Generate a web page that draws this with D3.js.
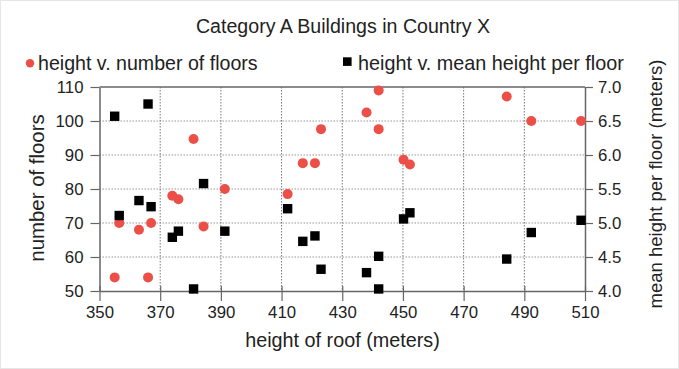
<!DOCTYPE html>
<html><head><meta charset="utf-8">
<script src="https://cdn.jsdelivr.net/npm/d3@7"></script>
<style>body{margin:0;background:#fff}svg{display:block}text{font-family:"Liberation Sans",Arial,sans-serif;fill:#222}</style>
</head><body><svg id="c" width="679" height="369"></svg>
<script>
const roofHeights = [355,366,356.5,363,367,374,376,381,384.3,391.3,412,417,421,423,438,442,442,450.2,452.3,484.2,492.3,508.7];
const floors      = [54,54,70,68,70,78,77,94.7,69,80,78.5,87.6,87.6,97.6,102.5,109,97.6,88.6,87.2,107.2,100,100];
const meanHeight  = [6.57,6.75,5.11,5.33,5.24,4.79,4.88,4.03,5.58,4.88,5.21,4.73,4.81,4.32,4.27,4.03,4.51,5.06,5.15,4.47,4.86,5.04];
const xTicks = [350,370,390,410,430,450,470,490,510];
const yLeftTicks = [50,60,70,80,90,100,110];
const yRightTicks = [4.0,4.5,5.0,5.5,6.0,6.5,7.0];

const svg = d3.select("#c");
const L=99.5, R=585, T=87, B=291;
const x = d3.scaleLinear().domain([350,510]).range([L,R]);
const yL = d3.scaleLinear().domain([50,110]).range([B,T]);
const yR = d3.scaleLinear().domain([4,7]).range([B,T]);

svg.append("rect").attr("x",0.5).attr("y",0.5).attr("width",678).attr("height",368).attr("fill","#fff").attr("stroke","#e6e6e6");

// gridlines
svg.append("g").selectAll("line").data(yLeftTicks.slice(1,-1)).join("line")
  .attr("x1",L).attr("x2",R).attr("y1",d=>yL(d)).attr("y2",d=>yL(d))
  .attr("stroke","#bbb").attr("stroke-width",1.5).attr("stroke-dasharray","1.5,1.5");
svg.append("g").selectAll("line").data(xTicks.slice(1,-1)).join("line")
  .attr("y1",T).attr("y2",B).attr("x1",d=>x(d)).attr("x2",d=>x(d))
  .attr("stroke","#777").attr("stroke-width",1).attr("stroke-dasharray","1.5,1.5");

// axes
const gx = svg.append("g").attr("transform",`translate(0,${B})`)
  .call(d3.axisBottom(x).tickValues(xTicks).tickFormat(d3.format("d")).tickSizeInner(10).tickSizeOuter(0).tickPadding(5));
const gl = svg.append("g").attr("transform",`translate(${L},0)`)
  .call(d3.axisLeft(yL).tickValues(yLeftTicks).tickFormat(d3.format("d")).tickSizeInner(9).tickSizeOuter(0).tickPadding(7));
const gr = svg.append("g").attr("transform",`translate(${R},0)`)
  .call(d3.axisRight(yR).tickValues(yRightTicks).tickFormat(d3.format(".1f")).tickSizeInner(8).tickSizeOuter(0).tickPadding(5));
[gx,gl,gr].forEach(g=>{
  g.selectAll(".domain").attr("stroke","#666").attr("stroke-width",1.5);
  g.selectAll(".tick line").attr("stroke","#666").attr("stroke-width",1.2);
  g.selectAll("text").style("font-size","16.8px").attr("fill","#222");
});
gx.selectAll(".tick line").attr("y1",-5);
svg.append("line").attr("x1",L).attr("x2",R).attr("y1",T).attr("y2",T).attr("stroke","#666").attr("stroke-width",1.5);

// points
svg.append("g").selectAll("circle").data(roofHeights).join("circle")
  .attr("cx",d=>x(d)).attr("cy",(d,i)=>yL(floors[i])).attr("r",5).attr("fill","#eb4f47");
svg.append("g").selectAll("rect").data(roofHeights).join("rect")
  .attr("x",d=>x(d)-4.7).attr("y",(d,i)=>yR(meanHeight[i])-4.7).attr("width",9.4).attr("height",9.4).attr("fill","#000");

// titles
svg.append("text").attr("x",343).attr("y",33).attr("text-anchor","middle").style("font-size","19.6px").text("Category A Buildings in Country X");
svg.append("circle").attr("cx",30).attr("cy",63.3).attr("r",4.2).attr("fill","#eb4f47");
svg.append("text").attr("x",38).attr("y",69.5).style("font-size","19.6px").text("height v. number of floors");
svg.append("rect").attr("x",343).attr("y",57.3).attr("width",8.6).attr("height",8.6).attr("fill","#000");
svg.append("text").attr("x",358).attr("y",69.5).style("font-size","19.8px").text("height v. mean height per floor");
svg.append("text").attr("x",342.5).attr("y",346.5).attr("text-anchor","middle").style("font-size","19.8px").text("height of roof (meters)");
svg.append("text").attr("transform","translate(44,188) rotate(-90)").attr("text-anchor","middle").style("font-size","20.4px").text("number of floors");
svg.append("text").attr("transform","translate(661.5,184) rotate(-90)").attr("text-anchor","middle").style("font-size","18.5px").text("mean height per floor (meters)");
</script></body></html>
